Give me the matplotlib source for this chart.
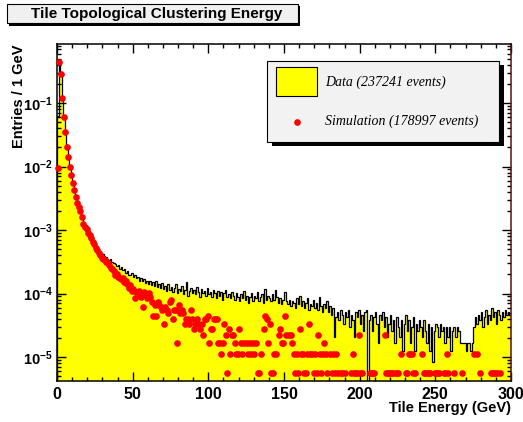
import numpy as np
import matplotlib.pyplot as plt
from matplotlib.patches import Rectangle
from matplotlib.lines import Line2D
from matplotlib.ticker import MultipleLocator, LogLocator, NullFormatter

plt.rcParams['font.family'] = ['Liberation Sans', 'DejaVu Sans']
plt.rcParams['font.weight'] = 'bold'
plt.rcParams['mathtext.fontset'] = 'custom'
plt.rcParams['mathtext.rm'] = 'Liberation Sans:bold'
plt.rcParams['mathtext.it'] = 'Liberation Sans:bold'
plt.rcParams['mathtext.bf'] = 'Liberation Sans:bold'

# Totals quoted in the legend
n_data = 237241
n_sim = 178997

# Entries per 1 GeV bin, 0-300 GeV
data_counts = [
    14700, 109100, 64000, 26570, 13520, 7830, 4630, 3250, 2250, 1680,
    1260, 970, 760, 620, 520, 450, 368, 304, 266, 237,
    214, 190, 171, 157, 147, 133, 123, 114, 109, 102,
    98, 92, 90, 84, 80, 82, 74, 71, 70, 64,
    66, 58, 62, 55, 57, 50, 53, 47, 46, 50,
    44, 46, 41, 44, 38, 42, 37, 40, 35, 38,
    34, 37, 32, 36, 31, 38, 30, 33, 29, 35,
    28, 31, 26, 33, 27, 30, 25, 29, 34, 24,
    28, 26, 31, 23, 27, 36, 22, 26, 29, 24,
    27, 23, 30, 25, 21, 28, 24, 26, 22, 29,
    23, 25, 21, 27, 24, 20, 26, 22, 25, 19,
    24, 27, 21, 23, 20, 25, 22, 19, 24, 21,
    18, 23, 20, 26, 19, 22, 17, 21, 24, 18,
    22, 20, 25, 18, 21, 23, 17, 28, 19, 22,
    20, 18, 23, 19, 27, 21, 17, 20, 16, 19,
    25, 18, 16, 19, 15, 18, 17, 14, 20, 16,
    22, 15, 18, 14, 17, 20, 13, 16, 15, 19,
    14, 17, 13, 21, 15, 12, 16, 14, 18, 12,
    15, 11, 14, 5, 10, 12, 9, 13, 11, 8,
    12, 10, 13, 7, 11, 9, 5, 12, 10, 13,
    8, 11, 6, 12, 13, 0, 9, 11, 6, 10,
    12, 8, 4, 11, 9, 12, 7, 10, 5, 8,
    11, 6, 9, 4, 10, 7, 5, 9, 3, 8,
    11, 6, 9, 4, 7, 10, 3, 8, 6, 9,
    7, 5, 9, 6, 4, 8, 3, 7, 2, 6,
    8, 7, 5, 8, 6, 7, 4, 7, 5, 7,
    3, 6, 7, 5, 7, 6, 4, 4, 4, 4,
    3, 4, 4, 3, 4, 7, 10, 8, 11, 9,
    12, 7, 10, 13, 8, 11, 9, 14, 10, 12,
    8, 13, 11, 9, 12, 10, 13, 11, 12, 11,
]

sim_counts = [
    1700, 78760, 51910, 21300, 10740, 6265, 3650, 2560, 1772, 1325,
    985, 752, 590, 483, 412, 358, 286, 226, 200, 183,
    161, 149, 134, 115, 107, 93, 88, 77, 72, 66,
    62, 60, 56, 54, 50, 46, 44, 40, 35, 37,
    33, 31, 30, 32, 27, 28, 25, 22, 24, 20,
    21, 15, 19, 17, 20, 16, 11, 19, 17, 15,
    18, 16, 13, 8, 12, 8, 13, 12, 11, 10,
    6, 11, 10, 9, 13, 14, 7, 10, 10, 3,
    12, 9, 10, 9, 6, 7, 7, 6, 10, 7,
    5, 6, 7, 6, 5, 6, 4, 7, 7, 8,
    3, 5, 5, 7, 7, 7, 3, 3, 2, 3,
    6, 4, 1, 5, 2, 4, 4, 3, 2, 2,
    5, 3, 2, 3, 0, 3, 2, 3, 2, 3,
    2, 3, 1, 1, 2, 0, 5, 8, 7, 3,
    6, 1, 1, 2, 2, 0, 4, 5, 3, 3,
    8, 4, 0, 4, 4, 3, 2, 1, 2, 1,
    5, 2, 2, 1, 1, 2, 6, 2, 2, 1,
    2, 1, 4, 2, 1, 2, 3, 2, 1, 0,
    2, 1, 2, 1, 2, 1, 0, 1, 1, 0,
    1, 0, 0, 0, 1, 2, 1, 1, 1, 4,
    1, 1, 0, 0, 0, 0, 1, 1, 1, 1,
    0, 0, 0, 0, 0, 0, 4, 1, 1, 1,
    1, 1, 0, 1, 1, 1, 0, 2, 0, 0,
    1, 1, 2, 2, 2, 1, 1, 0, 0, 0,
    0, 2, 1, 1, 1, 1, 1, 0, 0, 1,
    1, 1, 1, 0, 0, 1, 1, 2, 1, 0,
    0, 0, 1, 0, 0, 0, 0, 1, 0, 0,
    0, 0, 0, 0, 0, 2, 0, 2, 0, 1,
    0, 0, 0, 0, 0, 0, 1, 1, 1, 1,
    1, 0, 1, 0, 0, 0, 0, 0, 0, 0,
]

yticks = [1e-5, 1e-4, 1e-3, 1e-2, 1e-1]
ytick_labels = [r'$10^{-5}$', r'$10^{-4}$', r'$10^{-3}$', r'$10^{-2}$', r'$10^{-1}$']

W, H = 523, 422


def fx(x):
    return x / W


def fy(y):
    return 1 - y / H


fig = plt.figure(figsize=(W / 100, H / 100), dpi=100)
ax = fig.add_axes([fx(57), fy(381), (511 - 57) / W, (381 - 44) / H])

edges = np.arange(len(data_counts) + 1)
data_v = np.array(data_counts) / n_data
sim_v = np.array(sim_counts) / n_sim
floor = 1e-9
data_draw = np.where(data_v > 0, data_v, floor)

ax.stairs(data_draw, edges, fill=True, color='#ffff00', baseline=floor, zorder=1)
ax.stairs(data_draw, edges, color='black', lw=0.9, baseline=floor, zorder=2)

centers = edges[:-1] + 0.5
mask = sim_v > 0
ax.plot(centers[mask], sim_v[mask], 'o', color='#ff0000', ms=4.8, mew=0,
        zorder=3, clip_on=False)

ax.set_yscale('log')
ax.set_xlim(0, 300)
ax.set_ylim(4.2e-6, 0.85)
ax.xaxis.set_major_locator(MultipleLocator(50))
ax.xaxis.set_minor_locator(MultipleLocator(10))
ax.set_yticks(yticks, ytick_labels)
ax.yaxis.set_minor_locator(LogLocator(base=10, subs=np.arange(2, 10)))
ax.yaxis.set_minor_formatter(NullFormatter())
ax.tick_params(which='both', direction='in', top=True, right=True, width=1)
ax.tick_params(which='major', length=6.5)
ax.tick_params(which='minor', length=3.2)
ax.tick_params(axis='x', pad=4, labelsize=11.5)
ax.tick_params(axis='y', pad=3, labelsize=10.5)
for s in ax.spines.values():
    s.set_linewidth(1.1)
ax.spines['right'].set_color('#5c1010')

fig.text(fx(511), fy(408), 'Tile Energy (GeV)', ha='right', va='center',
         fontsize=10.5, fontweight='bold')
fig.text(fx(19), fy(44), 'Entries / 1 GeV', ha='center', va='top',
         rotation=90, fontsize=10.5, fontweight='bold')

# title box with shadow
fig.patches.append(Rectangle((fx(9), fy(25.5)), (298 - 7) / W, (23.3 - 4) / H,
                             transform=fig.transFigure, fc='black', ec='none'))
fig.patches.append(Rectangle((fx(7), fy(23.3)), (298 - 7) / W, (23.3 - 4) / H,
                             transform=fig.transFigure, fc='#f0f0f0', ec='black', lw=0.8))
fig.text(fx(157), fy(14), 'Tile Topological Clustering Energy', ha='center',
         va='center', fontsize=11, fontweight='bold')

# legend box with shadow
fig.patches.append(Rectangle((fx(271.5), fy(145.5)), (499.3 - 267.3) / W, (141.7 - 60.7) / H,
                             transform=fig.transFigure, fc='black', ec='none'))
fig.patches.append(Rectangle((fx(267.3), fy(141.7)), (499.3 - 267.3) / W, (141.7 - 60.7) / H,
                             transform=fig.transFigure, fc='#f2f2f2', ec='black', lw=0.8))
fig.patches.append(Rectangle((fx(276), fy(95.7)), (316.7 - 276) / W, (95.7 - 67.3) / H,
                             transform=fig.transFigure, fc='#ffff00', ec='black', lw=0.8))
fig.lines.append(Line2D([fx(296.7)], [fy(121.7)], transform=fig.transFigure,
                        marker='o', color='#ff0000', ms=4.8, mew=0, ls='none'))
fig.text(fx(325), fy(82), 'Data (237241 events)', ha='left', va='center',
         fontsize=10, style='italic', fontweight='normal', family='Liberation Serif')
fig.text(fx(325), fy(121.7), 'Simulation (178997 events)', ha='left', va='center',
         fontsize=10, style='italic', fontweight='normal', family='Liberation Serif')

fig.savefig('out.png', dpi=100)
